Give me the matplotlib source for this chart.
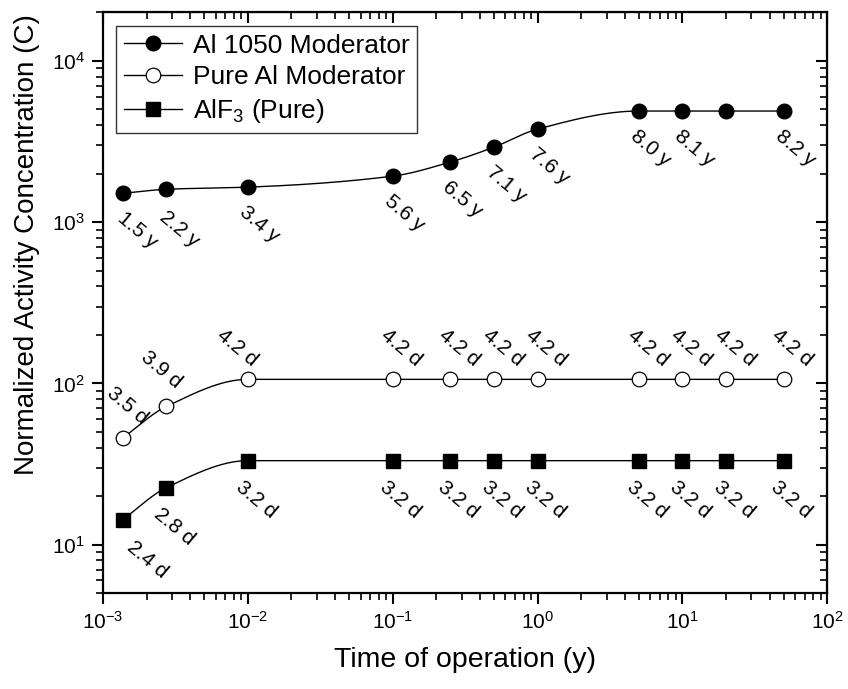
# Activity concentration vs. time of operation (log-log), three materials
import matplotlib
matplotlib.use("Agg")
import matplotlib.pyplot as plt
import numpy as np

# -----------------------------------------------------------------------------
# Data

time_y = [0.00137, 0.00274, 0.01, 0.1, 0.25, 0.5, 1.0, 5.0, 10.0, 20.0, 50.0]

al1050 = [1510, 1600, 1650, 1930, 2360, 2920, 3780, 4890, 4890, 4890, 4890]
pure_al = [46, 72, 106, 106, 106, 106, 106, 106, 106, 106, 106]
alf3 = [14.3, 22.6, 33.2, 33.2, 33.2, 33.2, 33.2, 33.2, 33.2, 33.2, 33.2]

al1050_labels = ["1.5 y", "2.2 y", "3.4 y", "5.6 y", "6.5 y", "7.1 y", "7.6 y",
                 "8.0 y", "8.1 y", "", "8.2 y"]
pure_al_labels = ["3.5 d", "3.9 d"] + ["4.2 d"] * 9
alf3_labels = ["2.4 d", "2.8 d"] + ["3.2 d"] * 9

series_names = ["Al 1050 Moderator", "Pure Al Moderator", "AlF$_3$ (Pure)"]

# label offsets in pixels (layout only)
al1050_off = [(15, -37), (13, -40)] + [(12, -37)] * 9
pure_al_off = [(4, 32), (-5, 37), (-11, 32)] + [(9, 32)] * 8
alf3_off = [(24, -40)] + [(8, -39)] * 10

# -----------------------------------------------------------------------------
# Functions

def pchip(x, y, xn):
    """
    Monotone cubic (PCHIP) interpolation, only used to draw the smooth line.
    """
    x = np.asarray(x, float)
    y = np.asarray(y, float)
    h = np.diff(x)
    d = np.diff(y) / h
    m = np.zeros_like(y)
    m[0] = d[0]
    m[-1] = d[-1]
    for k in range(1, len(x) - 1):
        if d[k-1] * d[k] <= 0:
            m[k] = 0.0
        else:
            w1 = 2 * h[k] + h[k-1]
            w2 = h[k] + 2 * h[k-1]
            m[k] = (w1 + w2) / (w1 / d[k-1] + w2 / d[k])
    idx = np.clip(np.searchsorted(x, xn) - 1, 0, len(x) - 2)
    t = (xn - x[idx]) / h[idx]
    h00 = 2*t**3 - 3*t**2 + 1
    h10 = t**3 - 2*t**2 + t
    h01 = -2*t**3 + 3*t**2
    h11 = t**3 - t**2
    return h00*y[idx] + h10*h[idx]*m[idx] + h01*y[idx+1] + h11*h[idx]*m[idx+1]


def smooth_line(x, y):
    lx = np.log10(x)
    ly = np.log10(y)
    xn = np.linspace(lx[0], lx[-1], 400)
    return 10**xn, 10**pchip(lx, ly, xn)


def put_labels(ax, x, y, labels, offsets):
    for xi, yi, lab, off in zip(x, y, labels, offsets):
        if lab == "":
            continue
        ax.annotate(lab, (xi, yi), xytext=off, textcoords="offset pixels",
                    ha="center", va="center", rotation=-40,
                    rotation_mode="anchor", fontsize=15)

# -----------------------------------------------------------------------------
# Main program

plt.rcParams["font.family"] = ["Liberation Sans", "DejaVu Sans"]
plt.rcParams["mathtext.fontset"] = "custom"
plt.rcParams["mathtext.rm"] = "Liberation Sans"
plt.rcParams["mathtext.it"] = "Liberation Sans:italic"
plt.rcParams["mathtext.bf"] = "Liberation Sans:bold"

fig = plt.figure(figsize=(8.48, 6.89), dpi=100)
ax = fig.add_axes([0.1215, 0.139, 0.854, 0.843])

styles = [
    dict(marker="o", markersize=10.5, markerfacecolor="black", markeredgecolor="black"),
    dict(marker="o", markersize=10.5, markerfacecolor="white", markeredgecolor="black",
         markeredgewidth=0.9),
    dict(marker="s", markersize=9.5, markerfacecolor="black", markeredgecolor="black"),
]

for ydata, name, st in zip([al1050, pure_al, alf3], series_names, styles):
    xs, ys = smooth_line(time_y, ydata)
    ax.plot(xs, ys, color="black", linewidth=1.0)
    ax.plot(time_y, ydata, linestyle="none", zorder=3, **st)
    # legend proxy
    ax.plot([], [], color="black", linewidth=1.0, label=name, **st)

put_labels(ax, time_y, al1050, al1050_labels, al1050_off)
put_labels(ax, time_y, pure_al, pure_al_labels, pure_al_off)
put_labels(ax, time_y, alf3, alf3_labels, alf3_off)

ax.set_xscale("log")
ax.set_yscale("log")
ax.set_xlim(1e-3, 1e2)
ax.set_ylim(5, 2e4)

ax.set_xlabel("Time of operation (y)", fontsize=20.5, labelpad=10)
ax.set_ylabel("Normalized Activity Concentration (C)", fontsize=20)
ax.yaxis.set_label_coords(-0.087, 0.60)

for sp in ax.spines.values():
    sp.set_linewidth(1.6)

ax.tick_params(which="major", direction="out", length=8, width=1.5,
               labelsize=15, pad=5)
ax.tick_params(which="minor", direction="out", length=5, width=1.2)

# mirrored axes with inward ticks, no labels
top = ax.secondary_xaxis("top")
top.tick_params(which="major", direction="in", length=8, width=1.5, labeltop=False)
top.tick_params(which="minor", direction="in", length=5, width=1.2)
right = ax.secondary_yaxis("right")
right.tick_params(which="major", direction="in", length=8, width=1.5, labelright=False)
right.tick_params(which="minor", direction="in", length=5, width=1.2)

leg = ax.legend(loc="upper left", fontsize=19, frameon=True, fancybox=False,
                edgecolor="black", handlelength=2.2, handletextpad=0.4,
                borderaxespad=0.5, labelspacing=0.3, borderpad=0.3)
leg.get_frame().set_linewidth(1.0)

fig.savefig("out.png", dpi=100)
